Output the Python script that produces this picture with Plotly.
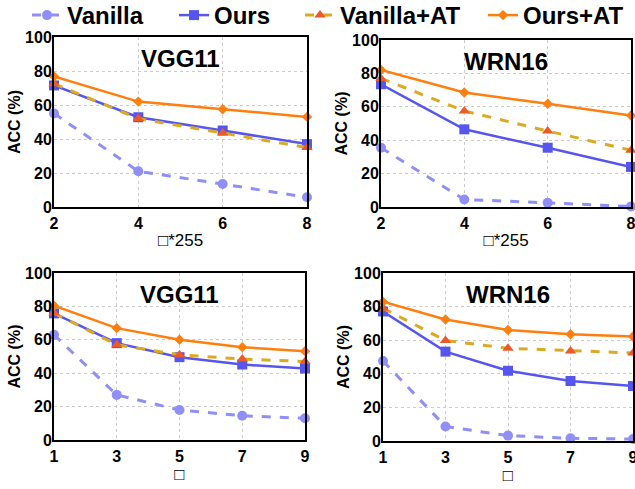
import plotly.graph_objects as go

FONT = "Arial, Liberation Sans, sans-serif"

series_names = ["Vanilla", "Ours", "Vanilla+AT", "Ours+AT"]

eps_x = [2, 4, 6, 8]
steps_x = [1, 3, 5, 7, 9]

vgg_eps = {
    "Vanilla": [55, 21, 13.5, 5.7],
    "Ours": [71.5, 52.8, 45, 37],
    "Vanilla+AT": [72.5, 52, 43.5, 35],
    "Ours+AT": [76.8, 62, 57.5, 53],
}
wrn_eps = {
    "Vanilla": [35.5, 4.5, 2.5, 0.3],
    "Ours": [73.5, 46.5, 35.5, 24],
    "Vanilla+AT": [77, 57.5, 45.5, 34],
    "Ours+AT": [82, 68.6, 61.8, 54.8],
}
vgg_steps = {
    "Vanilla": [63, 27, 18, 14.5, 13],
    "Ours": [75.8, 58, 49.6, 45.2, 42.8],
    "Vanilla+AT": [76, 57, 51, 48.5, 47],
    "Ours+AT": [80.4, 67, 60, 55.6, 53.2],
}
wrn_steps = {
    "Vanilla": [47.6, 8.6, 3.2, 1.6, 1.2],
    "Ours": [77.1, 53.2, 41.8, 35.7, 32.7],
    "Vanilla+AT": [79, 59.8, 55.2, 53.6, 52.4],
    "Ours+AT": [82.9, 72.3, 66.1, 63.5, 62.2],
}

panel_titles = ["VGG11", "WRN16", "VGG11", "WRN16"]
x_titles = ["□*255", "□*255", "□", "□"]

styles = {
    "Vanilla": dict(line=dict(color="#8f8ff7", width=3, dash="dash"),
                    marker=dict(symbol="circle", size=10, color="#8f8ff7")),
    "Ours": dict(line=dict(color="#5656ef", width=2.5, dash="solid"),
                 marker=dict(symbol="square", size=10, color="#5656ef")),
    "Vanilla+AT": dict(line=dict(color="#dcaa22", width=3, dash="dash"),
                       marker=dict(symbol="triangle-up", size=10, color="#ec5a2a")),
    "Ours+AT": dict(line=dict(color="#ff7f0e", width=2.5, dash="solid"),
                    marker=dict(symbol="diamond", size=8, color="#ff7f0e")),
}

W, H = 635, 489
# pixel boxes (left, right, top, bottom)
boxes = [(54, 307, 37, 207), (381, 631, 40, 207), (54, 305, 273, 440), (383, 633, 273, 441)]
panels = [(eps_x, vgg_eps), (eps_x, wrn_eps), (steps_x, vgg_steps), (steps_x, wrn_steps)]
legend_ids = ["legend", "legend2", "legend3", "legend4"]
legend_text_x = [67, 214, 340, 523]

fig = go.Figure()
layout = {}
annotations = []
for i, ((xs, data), box) in enumerate(zip(panels, boxes)):
    n = "" if i == 0 else str(i + 1)
    xa, ya = "x" + n, "y" + n
    l, r, t, b = box
    for k, name in enumerate(series_names):
        st = styles[name]
        fig.add_trace(go.Scatter(
            x=xs, y=data[name], mode="lines+markers", name=name,
            line=st["line"], marker=st["marker"], xaxis=xa, yaxis=ya,
            showlegend=(i == 0), cliponaxis=False, legend=legend_ids[k]))
    common = dict(showline=True, linecolor="black", linewidth=2, mirror=True,
                  showgrid=True, gridcolor="#cccccc", griddash="dot", gridwidth=1,
                  ticks="",
                  tickfont=dict(family=FONT, size=16, color="black", weight="bold"),
                  zeroline=False, automargin=False, ticklabeloverflow="allow")
    layout["xaxis" + n] = dict(common, domain=[l / W, r / W], anchor=ya,
                               range=[xs[0], xs[-1]], tickvals=xs, ticklabelstandoff=1,
                               title=dict(text=x_titles[i], standoff=3,
                                          font=dict(family=FONT, size=17, color="black")))
    layout["yaxis" + n] = dict(common, domain=[1 - b / H, 1 - t / H], anchor=xa,
                               range=[0, 100], tickvals=[0, 20, 40, 60, 80, 100],
                               ticklabelstandoff=-3,
                               title=dict(text="ACC (%)", standoff=0,
                                          font=dict(family=FONT, size=16, color="black", weight="bold")))
    annotations.append(dict(text=panel_titles[i], x=(l + r) / 2 / W, y=1 - (t + 21) / H,
                            xref="paper", yref="paper", xanchor="center", yanchor="middle",
                            showarrow=False,
                            font=dict(family=FONT, size=24, color="black", weight="bold")))

for lid, tx in zip(legend_ids, legend_text_x):
    layout[lid] = dict(orientation="h", x=(tx - 40) / W, xanchor="left", y=1 + 7 / H, yanchor="top",
                       font=dict(family=FONT, size=24, color="black", weight="bold"),
                       itemwidth=30, bgcolor="rgba(0,0,0,0)", borderwidth=0)

fig.update_layout(**layout)
fig.update_layout(
    width=W, height=H, margin=dict(l=0, r=0, t=0, b=0, autoexpand=False),
    plot_bgcolor="white", paper_bgcolor="white",
    annotations=annotations,
)
fig.write_html("out.html", config={"displayModeBar": False},
               post_script="document.body.style.margin='0px';")
